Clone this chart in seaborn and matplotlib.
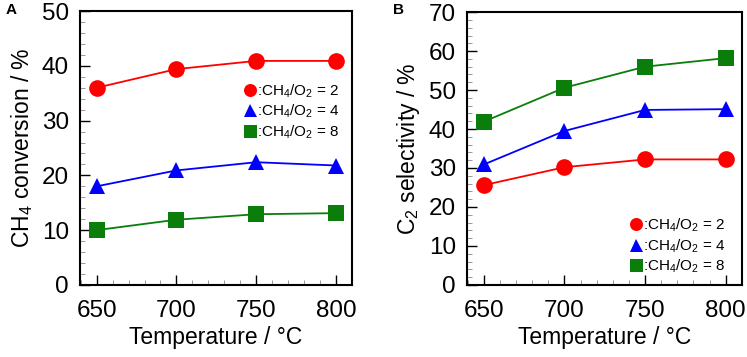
import numpy as np
import pandas as pd
import matplotlib.pyplot as plt
from matplotlib.ticker import MultipleLocator
import seaborn as sns

temps = [650, 700, 750, 800]
ratios = [':CH$_4$/O$_2$ = 2', ':CH$_4$/O$_2$ = 4', ':CH$_4$/O$_2$ = 8']

conv_r2 = [36.0, 39.4, 40.9, 40.9]
conv_r4 = [18.0, 20.9, 22.4, 21.8]
conv_r8 = [10.0, 11.9, 12.9, 13.1]

sel_r2 = [25.6, 30.2, 32.2, 32.2]
sel_r4 = [30.9, 39.5, 44.9, 45.1]
sel_r8 = [41.9, 50.6, 56.0, 58.2]

colors = dict(zip(ratios, ['#ff0000', '#0000ff', '#0a7d0a']))
marks = dict(zip(ratios, ['o', '^', 's']))

def to_df(series):
    rows = []
    for lab, vals in zip(ratios, series):
        for t, v in zip(temps, vals):
            rows.append({'T': t, 'val': v, 'ratio': lab})
    return pd.DataFrame(rows)

df_a = to_df([conv_r2, conv_r4, conv_r8])
df_b = to_df([sel_r2, sel_r4, sel_r8])

sns.set_style('white')
plt.rcParams['font.family'] = ['Liberation Sans', 'DejaVu Sans']
plt.rcParams['mathtext.fontset'] = 'custom'
plt.rcParams['mathtext.rm'] = 'Liberation Sans'
plt.rcParams['mathtext.it'] = 'Liberation Sans'
plt.rcParams['text.color'] = 'black'
plt.rcParams['axes.labelcolor'] = 'black'

fig = plt.figure(figsize=(7.47, 3.57), dpi=100)
ax_a = fig.add_axes([0.107, 0.202, 0.364, 0.767])
ax_b = fig.add_axes([0.625, 0.202, 0.368, 0.764])

def draw(ax, df, ylim, ylabel, leg_anchor):
    sns.lineplot(data=df, x='T', y='val', hue='ratio', style='ratio',
                 palette=colors, markers=marks, dashes=False, markersize=12,
                 markeredgewidth=0, linewidth=1.3, ax=ax)
    ax.set_xlim(639.5, 810)
    ax.set_ylim(*ylim)
    ax.set_xticks(temps)
    ax.xaxis.set_minor_locator(MultipleLocator(10))
    ax.yaxis.set_major_locator(MultipleLocator(10))
    ax.yaxis.set_minor_locator(MultipleLocator(2))
    ax.tick_params(axis='both', which='major', direction='in', length=7,
                   width=1, labelsize=17.5, colors='black',
                   bottom=True, left=True, top=False, right=False)
    ax.tick_params(axis='x', which='major', pad=11)
    ax.tick_params(axis='y', which='major', pad=8)
    ax.tick_params(axis='both', which='minor', direction='in', length=3.5,
                   width=0.6, color='#888888', bottom=True, left=True)
    for s in ax.spines.values():
        s.set_color('black')
        s.set_linewidth(1.5)
    ax.set_xlabel('Temperature / °C', fontsize=16.5, labelpad=3, color='black')
    ax.set_ylabel(ylabel, fontsize=16.5, labelpad=5, color='black')
    leg = ax.legend(loc='upper left', bbox_to_anchor=leg_anchor, frameon=False,
                    fontsize=11, handletextpad=0.0, handlelength=0.9,
                    markerscale=0.78, labelspacing=0.2, borderaxespad=0,
                    borderpad=0)
    for h in leg.legend_handles:
        h.set_linestyle('None')
    for t in leg.get_texts():
        t.set_color('black')

draw(ax_a, df_a, (0, 50), 'CH$_4$ conversion / %', (0.6, 0.74))
draw(ax_b, df_b, (0, 70), 'C$_2$ selectivity / %', (0.59, 0.25))

fig.text(0.008, 0.972, 'A', fontsize=11, fontweight='bold', va='center')
fig.text(0.526, 0.972, 'B', fontsize=11, fontweight='bold', va='center')

fig.savefig('out.png', dpi=100)
